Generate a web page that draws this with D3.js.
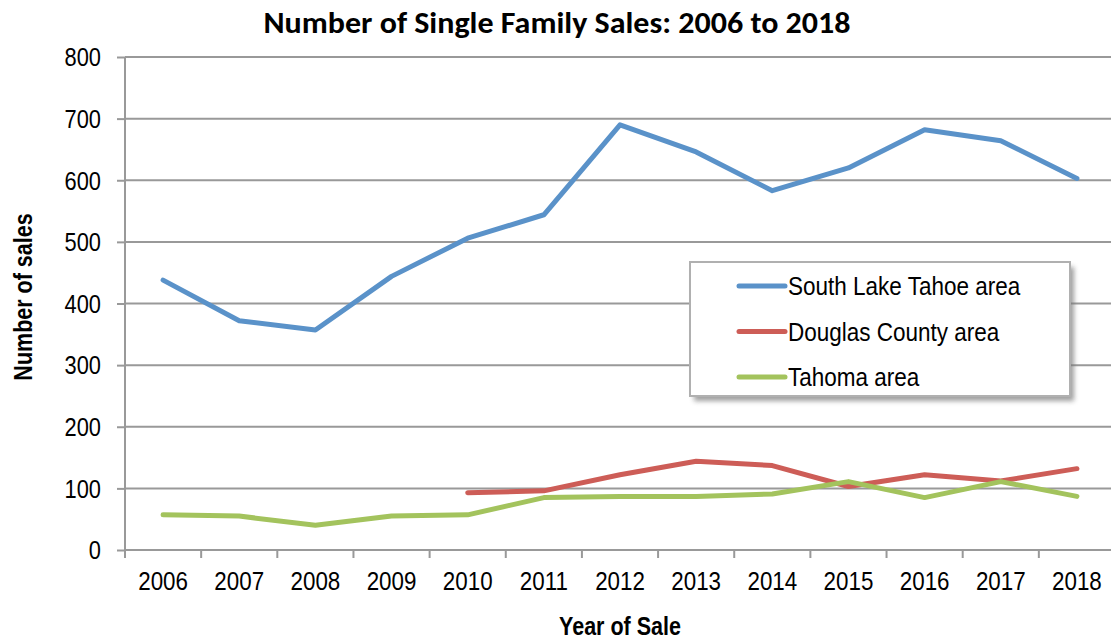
<!DOCTYPE html>
<html>
<head>
<meta charset="utf-8">
<script src="https://cdn.jsdelivr.net/npm/d3@7"></script>
<style>
  body { margin: 0; background: #fff; }
  svg { display: block; }
  .narrow { font-family: "Liberation Sans Narrow", "Arial Narrow", "Liberation Sans", Arial, sans-serif; }
</style>
</head>
<body>
<div id="chart"></div>
<script>
// datos
const years = ['2006', '2007', '2008', '2009', '2010', '2011', '2012', '2013', '2014', '2015', '2016', '2017', '2018'];
const southLakeTahoe = [438, 372, 357, 444, 506, 544, 690, 646, 583, 620, 682, 664, 603];
const douglasCounty = [null, null, null, null, 93, 96, 122, 144, 137, 103, 122, 112, 132];
const tahoma = [57, 55, 40, 55, 57, 85, 87, 87, 91, 111, 85, 111, 87];
const yTicks = [0, 100, 200, 300, 400, 500, 600, 700, 800];

const seriesNames = ['South Lake Tahoe area', 'Douglas County area', 'Tahoma area'];
const seriesColors = ['#5A92C9', '#CD5D57', '#A3C35D'];
const seriesValues = [southLakeTahoe, douglasCounty, tahoma];

const W = 1111, H = 639;
const margin = { top: 57, right: -4, bottom: 89, left: 125 };
const width = W - margin.left - margin.right,
  height = H - margin.top - margin.bottom;

// comprime el texto horizontalmente (la fuente estrecha no esta instalada)
function condense(sel, k) {
  sel.each(function () {
    const len = this.getComputedTextLength();
    d3.select(this)
      .attr('textLength', len * k)
      .attr('lengthAdjust', 'spacingAndGlyphs');
  });
}

const svg = d3.select('#chart').append('svg')
  .attr('width', W)
  .attr('height', H);

const defs = svg.append('defs');
const blur = defs.append('filter').attr('id', 'sombra')
  .attr('x', '-10%').attr('y', '-10%').attr('width', '130%').attr('height', '140%');
blur.append('feGaussianBlur').attr('stdDeviation', 2.5);

const g = svg.append('g')
  .attr('transform', 'translate(' + margin.left + ',' + margin.top + ')');

const x = d3.scaleBand().domain(years).range([0, width]);
const y = d3.scaleLinear().domain([0, 800]).range([height, 0]);

// lineas de la cuadricula
g.append('g')
  .selectAll('line')
  .data(yTicks.filter(d => d > 0))
  .enter().append('line')
  .attr('x1', 0).attr('x2', width)
  .attr('y1', d => y(d)).attr('y2', d => y(d))
  .attr('stroke', '#999').attr('stroke-width', 2);

// eje y
const yAxis = d3.axisLeft(y).tickValues(yTicks).tickSize(8).tickPadding(16);
const gy = g.append('g').attr('class', 'narrow').call(yAxis);
gy.select('.domain').remove();
gy.selectAll('.tick line').attr('stroke', '#999').attr('stroke-width', 2);
gy.selectAll('.tick text').attr('font-size', 26).attr('fill', '#000').attr('dy', '0.34em')
  .call(condense, 0.84);
g.append('line')
  .attr('x1', 0).attr('x2', 0).attr('y1', 0).attr('y2', height + 8)
  .attr('stroke', '#999').attr('stroke-width', 2);

// eje x
const xAxis = d3.axisBottom(x).tickSize(0).tickPadding(22);
const gx = g.append('g').attr('class', 'narrow')
  .attr('transform', 'translate(0,' + height + ')')
  .call(xAxis);
gx.select('.domain').remove();
gx.selectAll('.tick text').attr('font-size', 26).attr('fill', '#000')
  .call(condense, 0.86);
g.append('line')
  .attr('x1', 0).attr('x2', width).attr('y1', height).attr('y2', height)
  .attr('stroke', '#999').attr('stroke-width', 2);
g.append('g')
  .selectAll('line')
  .data(years)
  .enter().append('line')
  .attr('x1', d => x(d)).attr('x2', d => x(d))
  .attr('y1', height).attr('y2', height + 8)
  .attr('stroke', '#999').attr('stroke-width', 2);

// series
const linea = d3.line()
  .defined(d => d.v !== null)
  .x(d => x(d.year) + x.bandwidth() / 2)
  .y(d => y(d.v));

seriesValues.forEach((vals, i) => {
  const pts = years.map((yr, j) => ({ year: yr, v: vals[j] }));
  g.append('path')
    .attr('d', linea(pts))
    .attr('fill', 'none')
    .attr('stroke', seriesColors[i])
    .attr('stroke-width', 5)
    .attr('stroke-linejoin', 'round')
    .attr('stroke-linecap', 'round');
});

// leyenda
const lx = 690, ly = 262, lw = 380, lh = 134;
svg.append('rect')
  .attr('x', lx + 4).attr('y', ly + 5).attr('width', lw).attr('height', lh)
  .attr('fill', '#777').attr('opacity', 0.7)
  .attr('filter', 'url(#sombra)');
svg.append('rect')
  .attr('x', lx).attr('y', ly).attr('width', lw).attr('height', lh)
  .attr('fill', '#fff').attr('stroke', '#b0b0b0').attr('stroke-width', 2);
const leg = svg.append('g').attr('class', 'narrow');
seriesNames.forEach((name, i) => {
  const yy = ly + 24 + i * 45.5;
  leg.append('line')
    .attr('x1', lx + 49).attr('x2', lx + 95)
    .attr('y1', yy).attr('y2', yy)
    .attr('stroke', seriesColors[i]).attr('stroke-width', 5)
    .attr('stroke-linecap', 'round');
  leg.append('text')
    .attr('x', lx + 98).attr('y', yy)
    .attr('dy', '0.35em')
    .attr('font-size', 26)
    .text(name)
    .call(condense, 0.865);
});

// titulos
svg.append('text')
  .attr('x', 557).attr('y', 33)
  .attr('text-anchor', 'middle')
  .attr('font-family', 'Carlito, Calibri, "Open Sans", "Liberation Sans", sans-serif')
  .attr('font-weight', 'bold')
  .attr('font-size', 30)
  .attr('textLength', 587)
  .attr('lengthAdjust', 'spacingAndGlyphs')
  .text('Number of Single Family Sales: 2006 to 2018');

svg.append('text')
  .attr('class', 'narrow')
  .attr('x', margin.left + width / 2).attr('y', 635)
  .attr('text-anchor', 'middle')
  .attr('font-weight', 'bold')
  .attr('font-size', 25)
  .text('Year of Sale')
  .call(condense, 0.86);

svg.append('text')
  .attr('class', 'narrow')
  .attr('transform', 'translate(32,297) rotate(-90)')
  .attr('text-anchor', 'middle')
  .attr('font-weight', 'bold')
  .attr('font-size', 25)
  .text('Number of sales')
  .call(condense, 0.86);
</script>
</body>
</html>
